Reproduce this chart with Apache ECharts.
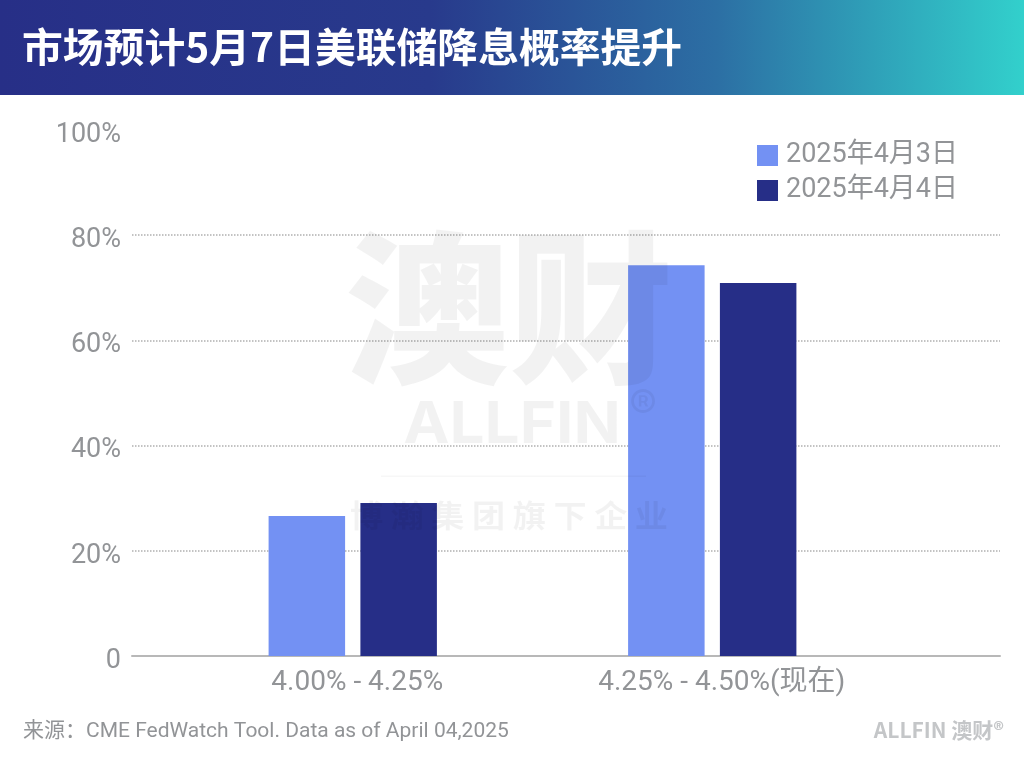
<!DOCTYPE html>
<html>
<head>
<meta charset="utf-8">
<style>html,body{margin:0;padding:0;background:#fff}#main{width:1024px;height:761px}</style>
<script src="https://cdn.jsdelivr.net/npm/echarts@6/dist/echarts.min.js"></script>
</head>
<body>
<div id="main"></div>
<script>
var titleText = '市场预计5月7日美联储降息概率提升';
var sourceText = '来源：CME FedWatch Tool. Data as of April 04,2025';
var categories = ['4.00% - 4.25%', '4.25% - 4.50%(现在)'];
var seriesNames = ['2025年4月3日', '2025年4月4日'];
var apr3Values = [26.6, 74.3];
var apr4Values = [29.1, 70.9];

var FONT = 'Roboto, "Noto Sans CJK SC", sans-serif';
var BOLD = 'Inter, "Noto Sans CJK SC", sans-serif';
var CJK = '"Noto Sans CJK SC", sans-serif';
var GREY = '#929497';
var MARK = 'rgba(0,0,0,0.05)';

var chart = echarts.init(document.getElementById('main'));
chart.setOption({
    animation: false,
    backgroundColor: '#fff',
    // 外层 grid 画网格线和 y 轴，内层 grid 放柱子
    grid: [
        { left: 132, right: 24, top: 130, bottom: 105 },
        { left: 173, right: 132, top: 130, bottom: 105 }
    ],
    xAxis: [
        { gridIndex: 0, type: 'category', data: [''], axisTick: { show: false }, axisLabel: { show: false },
          axisLine: { lineStyle: { color: '#b8b8b8', width: 2 } } },
        { gridIndex: 1, type: 'category', axisTick: { show: false }, axisLine: { show: false },
          data: [
              { value: categories[0], textStyle: { padding: [0, 0, 0, 9] } },
              { value: categories[1], textStyle: { padding: [0, 0, 0, 19] } }
          ],
          axisLabel: { color: GREY, fontFamily: FONT, fontSize: 28, margin: 13 } }
    ],
    yAxis: [
        { gridIndex: 0, type: 'value', min: 0, max: 100, interval: 20,
          axisLine: { show: false }, axisTick: { show: false },
          axisLabel: { color: GREY, fontFamily: FONT, fontSize: 27, margin: 11, verticalAlign: 'top', lineHeight: 10,
              formatter: function (v) { return v === 0 ? '0' : v + '%'; } },
          splitLine: { showMaxLine: false, lineStyle: { color: '#b0b0b0', type: [1.5, 1.5], width: 1.5 } } },
        { gridIndex: 1, type: 'value', min: 0, max: 100, interval: 20, show: false }
    ],
    legend: {
        orient: 'vertical', left: 752, top: 137, itemWidth: 21, itemHeight: 21, itemGap: 8,
        icon: 'rect',
        data: seriesNames,
        textStyle: { color: GREY, fontFamily: FONT, fontSize: 27, padding: [0, 0, 0, 3] }
    },
    series: [
        { name: seriesNames[0], type: 'bar', xAxisIndex: 1, yAxisIndex: 1, data: apr3Values,
          barWidth: 76.5, barGap: '20%', itemStyle: { color: '#7391F3' } },
        { name: seriesNames[1], type: 'bar', xAxisIndex: 1, yAxisIndex: 1, data: apr4Values,
          barWidth: 76.5, barGap: '20%', itemStyle: { color: '#262E87' } }
    ],
    graphic: [
        // 顶部标题栏
        { type: 'rect', z: 10, shape: { x: 0, y: 0, width: 1024, height: 95 },
          style: { fill: new echarts.graphic.LinearGradient(0, 0, 1, 0, [
              { offset: 0, color: '#272F87' }, { offset: 0.42, color: '#283A8C' },
              { offset: 0.7, color: '#2C6FA4' }, { offset: 1, color: '#32D0CC' }]) } },
        { type: 'text', z: 11, x: 22, y: 47, scaleX: 1.02,
          style: { text: titleText, fill: '#fff', font: 'bold 40px ' + CJK, textVerticalAlign: 'middle' } },
        // 水印
        { type: 'text', z: 20, x: 509, y: 308, style: { text: '澳财', fill: MARK, font: '900 164px ' + CJK, textAlign: 'center', textVerticalAlign: 'middle' } },
        { type: 'text', z: 20, x: 512, y: 426, scaleX: 1.07, style: { text: 'ALLFIN', fill: MARK, font: 'bold 58px ' + BOLD, textAlign: 'center', textVerticalAlign: 'middle' } },
        { type: 'text', z: 20, x: 643, y: 407, style: { text: '®', fill: MARK, font: '42px ' + BOLD, textAlign: 'center', textVerticalAlign: 'middle' } },
        { type: 'rect', z: 20, shape: { x: 381, y: 475.5, width: 265, height: 1.5 }, style: { fill: 'rgba(0,0,0,0.03)' } },
        { type: 'text', z: 20, x: 509, y: 515, scaleX: 1.07, style: { text: '博 瀚 集 团 旗 下 企 业', fill: MARK, font: 'bold 31px ' + CJK, textAlign: 'center', textVerticalAlign: 'middle' } },
        // 底部来源和 logo
        { type: 'text', z: 11, x: 23, y: 732, style: { text: sourceText, fill: GREY, font: '21px ' + FONT, textVerticalAlign: 'middle' } },
        { type: 'text', z: 11, x: 1004, y: 730, style: { text: 'ALLFIN 澳财®', fill: '#c4c6c8', font: 'bold 21px ' + CJK, textAlign: 'right', textVerticalAlign: 'middle' } }
    ]
});
</script>
</body>
</html>
